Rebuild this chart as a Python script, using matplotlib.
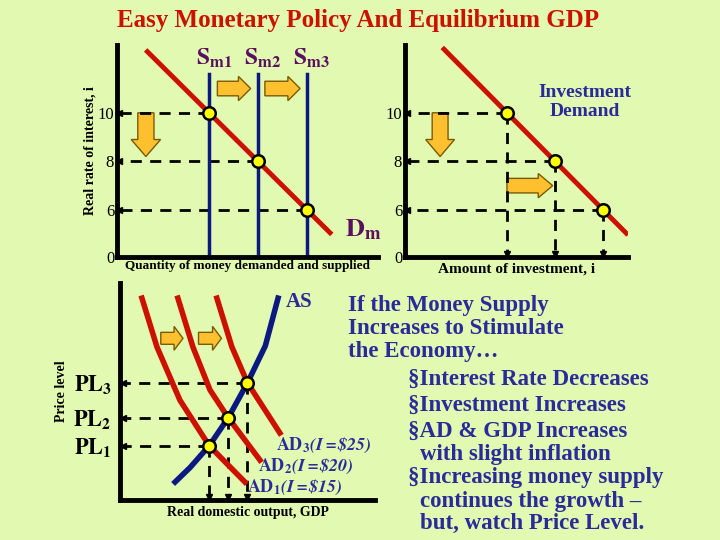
import matplotlib.pyplot as plt
from matplotlib.patches import FancyArrow

plt.rcParams['font.family'] = ['Liberation Serif', 'DejaVu Serif']
plt.rcParams['mathtext.fontset'] = 'stix'

BG = '#e2f9b2'
RED = '#cc1100'
BLUE = '#0a1a80'
NAVY = '#2a2a9a'
PURPLE = '#5a1060'

# money market / investment
rates = [10, 8, 6]
money_q = [1, 2, 3]          # Sm1, Sm2, Sm3
dm_q = [-0.26, 3.47]
dm_r = [12.52, 5.06]
inv_q = [1, 2, 3]
id_q = [-0.31, 3.48]
id_r = [12.62, 5.04]

# AD / AS (arbitrary units)
gdp = [3.5, 4.25, 5.0]
price = [2.5, 3.8, 5.4]
as_x = [2.16, 2.75, 3.5, 4.25, 5.0, 5.7, 6.2]
as_y = [0.83, 1.5, 2.5, 3.8, 5.4, 7.1, 9.3]
ad1_x = [0.86, 1.45, 2.35, 3.5, 4.9]
ad1_y = [9.3, 7.05, 4.6, 2.5, 0.83]
ad2_x = [2.27, 2.86, 3.53, 4.24, 5.49]
ad2_y = [9.3, 7.05, 5.07, 3.8, 1.84]
ad3_x = [3.8, 4.39, 5.0, 6.27]
ad3_y = [9.3, 7.05, 5.4, 3.09]
ad_labels = ['$\\mathbf{AD_1}\\mathbfit{(I=\\$15)}$', '$\\mathbf{AD_2}\\mathbfit{(I=\\$20)}$',
             '$\\mathbf{AD_3}\\mathbfit{(I=\\$25)}$']

fig = plt.figure(figsize=(7.2, 5.4), dpi=100)
fig.patch.set_facecolor(BG)


def style(ax, xl, yl):
    ax.set_facecolor(BG)
    ax.set_xlim(*xl)
    ax.set_ylim(*yl)
    for s in ['top', 'right']:
        ax.spines[s].set_visible(False)
    for s in ['left', 'bottom']:
        ax.spines[s].set_linewidth(3.5)
    ax.set_xticks([])
    ax.tick_params(length=0, labelsize=12, pad=2)


def hdash(ax, x0, x1, y):
    ax.plot([x0, x1], [y, y], '--', color='k', lw=2, dashes=(4, 3))
    ax.plot(x1, y, marker='<', color='k', ms=5, clip_on=False)


def vdash(ax, x, y0, y1):
    ax.plot([x, x], [y0, y1], '--', color='k', lw=2, dashes=(4, 3))
    ax.plot(x, y1, marker='v', color='k', ms=5, clip_on=False)


def fat(ax, x, y, dx, dy, w, hw, hl):
    ax.add_patch(FancyArrow(x, y, dx, dy, width=w, head_width=hw, head_length=hl,
                            length_includes_head=True, fc='#ffc030', ec='#7a5a00', lw=1))


def dot(ax, x, y):
    ax.plot(x, y, 'o', ms=9, mfc='#ffff00', mec='k', mew=1.8, zorder=5, clip_on=False)


# money market
ax1 = fig.add_axes([0.1625, 0.524, 0.3625, 0.393])
style(ax1, (-0.88, 4.45), (4.06, 12.8))
ax1.set_yticks([4.06, 6, 8, 10], ['0', '6', '8', '10'])
for q, r in zip(money_q, rates):
    hdash(ax1, q, -0.84, r)
for i, q in enumerate(money_q):
    ax1.plot([q, q], [4.06, 11.6], color=BLUE, lw=2.5)
    ax1.text(q + 0.1, 11.75, '$\\mathbf{S_{m%d}}$' % (i + 1), color=PURPLE,
             fontsize=17, ha='center', va='bottom')
ax1.plot(dm_q, dm_r, color=RED, lw=3.5)
for q, r in zip(money_q, rates):
    dot(ax1, q, r)
fat(ax1, 1.17, 11.0, 0.68, 0, 0.6, 1.0, 0.25)
fat(ax1, 2.14, 11.0, 0.72, 0, 0.6, 1.0, 0.25)
fat(ax1, -0.29, 10.0, 0, -1.8, 0.33, 0.6, 0.7)
ax1.text(3.78, 4.9, '$\\mathbf{D_m}$', color=PURPLE, fontsize=19)
ax1.set_ylabel('Real rate of interest, i', fontsize=10, fontweight='bold', labelpad=1)
ax1.set_xlabel('Quantity of money demanded and supplied', fontsize=9.5,
               fontweight='bold', labelpad=2)

# investment demand
ax2 = fig.add_axes([0.5625, 0.524, 0.31, 0.393])
style(ax2, (-1.12, 3.52), (4.06, 12.8))
ax2.set_yticks([4.06, 6, 8, 10], ['0', '6', '8', '10'])
for q, r in zip(inv_q, rates):
    hdash(ax2, q, -1.08, r)
    vdash(ax2, q, r, 4.2)
ax2.plot(id_q, id_r, color=RED, lw=3.5)
for q, r in zip(inv_q, rates):
    dot(ax2, q, r)
fat(ax2, -0.39, 10.0, 0, -1.8, 0.33, 0.6, 0.7)
fat(ax2, 1.0, 7.0, 0.95, 0, 0.6, 1.0, 0.3)
ax2.text(2.62, 10.45, 'Investment\nDemand', color=NAVY, fontsize=14, fontweight='bold',
         ha='center', va='center', linespacing=1.1)
ax2.set_xlabel('Amount of investment, i', fontsize=11, fontweight='bold', labelpad=4)

# AD / AS
ax3 = fig.add_axes([0.1667, 0.074, 0.354, 0.402])
style(ax3, (0, 10), (0, 10))
ax3.set_yticks(price, ['$\\mathbf{PL_1}$', '$\\mathbf{PL_2}$', '$\\mathbf{PL_3}$'])
ax3.tick_params(axis='y', labelsize=16, pad=6)
for q, p in zip(gdp, price):
    hdash(ax3, q, 0.1, p)
    vdash(ax3, q, p, 0.15)
for xs, ys in [(ad1_x, ad1_y), (ad2_x, ad2_y), (ad3_x, ad3_y)]:
    ax3.plot(xs, ys, color=RED, lw=4)
ax3.plot(as_x, as_y, color=BLUE, lw=4)
for q, p in zip(gdp, price):
    dot(ax3, q, p)
fat(ax3, 1.6, 7.45, 0.87, 0, 0.55, 1.1, 0.35)
fat(ax3, 3.08, 7.45, 0.9, 0, 0.55, 1.1, 0.35)
ax3.text(6.5, 9.1, 'AS', color=NAVY, fontsize=15, fontweight='bold', va='center')
for (x, y), lab in zip([(5.0, 0.6), (5.4, 1.55), (6.1, 2.5)], ad_labels):
    ax3.text(x, y, lab, color=NAVY, fontsize=13, va='center')
ax3.set_ylabel('Price level', fontsize=10, fontweight='bold', labelpad=4)
ax3.set_xlabel('Real domestic output, GDP', fontsize=10, fontweight='bold', labelpad=4)

# title and text block
fig.text(0.498, 0.962, 'Easy Monetary Policy And Equilibrium GDP', color=RED,
         fontsize=18, fontweight='bold', ha='center', va='center')
lines = [
    (0.483, 0.435, 'If the Money Supply'),
    (0.483, 0.392, 'Increases to Stimulate'),
    (0.483, 0.349, 'the Economy…'),
    (0.567, 0.298, '§Interest Rate Decreases'),
    (0.567, 0.250, '§Investment Increases'),
    (0.567, 0.202, '§AD & GDP Increases'),
    (0.583, 0.159, 'with slight inflation'),
    (0.567, 0.115, '§Increasing money supply'),
    (0.583, 0.072, 'continues the growth –'),
    (0.583, 0.030, 'but, watch Price Level.'),
]
for x, y, t in lines:
    fig.text(x, y, t, color=NAVY, fontsize=16.5, fontweight='bold', va='center')

fig.savefig('out.png', dpi=100, facecolor=BG)
